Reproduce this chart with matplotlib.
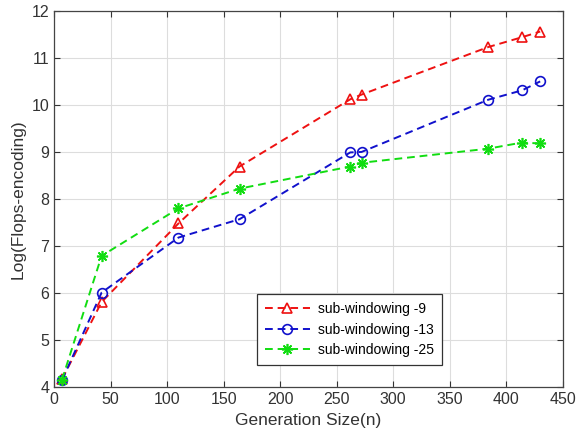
import matplotlib
matplotlib.use("Agg")
import matplotlib.pyplot as plt

plt.rcParams['font.family'] = ['Liberation Sans', 'DejaVu Sans']

gen_size = [7, 42, 110, 164, 262, 272, 384, 414, 430]
sw9 = [4.17, 5.81, 7.48, 8.69, 10.12, 10.22, 11.23, 11.44, 11.56]
sw13 = [4.15, 6.01, 7.18, 7.57, 8.99, 9.0, 10.11, 10.31, 10.5]
sw25 = [4.16, 6.79, 7.8, 8.22, 8.69, 8.77, 9.07, 9.2, 9.18]

fig = plt.figure(figsize=(5.82, 4.34), dpi=100)
ax = fig.add_axes([0.093, 0.108, 0.874, 0.867])

ax.plot(gen_size, sw9, '--', color='#ee1111', lw=1.4, marker='^', ms=7.5,
        mfc='none', mew=1.2, dashes=(4, 2.5), label='sub-windowing -9')
ax.plot(gen_size, sw13, '--', color='#1111cc', lw=1.4, marker='o', ms=7,
        mfc='none', mew=1.2, dashes=(4, 2.5), label='sub-windowing -13')
ax.plot(gen_size, sw25, '--', color='#11dd11', lw=1.4, marker=(8, 2, 0), ms=8,
        mew=1.2, dashes=(4, 2.5), label='sub-windowing -25')

ax.set_xlim(0, 450)
ax.set_ylim(4, 12)
ax.set_xticks(range(0, 451, 50))
ax.set_yticks(range(4, 13))
ax.grid(True, color='#dddddd', lw=0.8)
ax.tick_params(direction='in', top=True, right=True, labelsize=11.5,
               colors='#333333', length=4)
for s in ax.spines.values():
    s.set_color('#444444')
    s.set_linewidth(0.9)

ax.set_xlabel('Generation Size(n)', fontsize=12.5, color='#333333')
ax.set_ylabel('Log(Flops-encoding)', fontsize=12.5, color='#333333')

leg = ax.legend(loc='lower left', bbox_to_anchor=(0.385, 0.04), fontsize=10,
                fancybox=False, framealpha=1, edgecolor='#333333',
                handlelength=3.2, handletextpad=0.6, borderpad=0.6,
                labelspacing=0.45)
leg.get_frame().set_linewidth(0.9)

fig.savefig('out.png', dpi=100)
